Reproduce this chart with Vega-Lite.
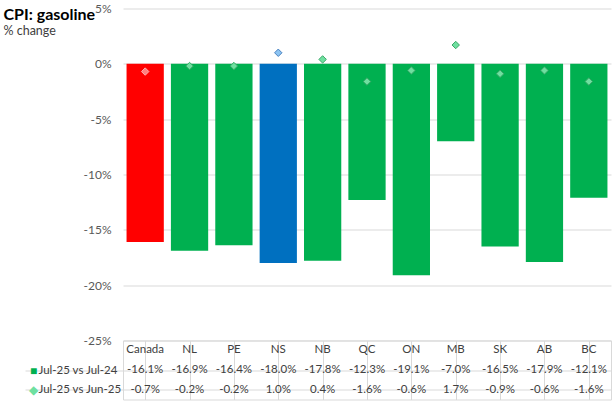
{
  "$schema": "https://vega.github.io/schema/vega-lite/v6.json",
  "padding": {"left": 3, "top": 2.5, "right": 0, "bottom": 0},
  "background": "white",
  "config": {
    "font": "Lato",
    "view": {"stroke": null},
    "locale": {"number": {"decimal": ".", "thousands": ",", "grouping": [3], "currency": ["$", ""], "minus": "-"}}
  },
  "datasets": {
    "cpi": [
      {"prov": "Canada", "yoy": -0.161, "mom": -0.007},
      {"prov": "NL", "yoy": -0.169, "mom": -0.002},
      {"prov": "PE", "yoy": -0.164, "mom": -0.002},
      {"prov": "NS", "yoy": -0.180, "mom": 0.010},
      {"prov": "NB", "yoy": -0.178, "mom": 0.004},
      {"prov": "QC", "yoy": -0.123, "mom": -0.016},
      {"prov": "ON", "yoy": -0.191, "mom": -0.006},
      {"prov": "MB", "yoy": -0.070, "mom": 0.017},
      {"prov": "SK", "yoy": -0.165, "mom": -0.009},
      {"prov": "AB", "yoy": -0.179, "mom": -0.006},
      {"prov": "BC", "yoy": -0.121, "mom": -0.016}
    ]
  },
  "vconcat": [
    {
      "width": 488,
      "height": 332,
      "data": {"name": "cpi"},
      "layer": [
        {
          "mark": {"type": "bar"},
          "encoding": {
            "x": {
              "field": "prov", "type": "nominal", "sort": null,
              "scale": {"domain": ["Canada","NL","PE","NS","NB","QC","ON","MB","SK","AB","BC"], "paddingInner": 0.16, "paddingOuter": 0.08},
              "axis": null
            },
            "y": {
              "field": "yoy", "type": "quantitative",
              "scale": {"domain": [-0.25, 0.05], "nice": false, "zero": false},
              "axis": {
                "values": [-0.25, -0.2, -0.15, -0.1, -0.05, 0, 0.05],
                "format": ".0%",
                "grid": true, "gridColor": "#d9d9d9", "ticks": false, "domain": false,
                "labelColor": "#595959", "labelFontSize": 12, "labelPadding": 12,
                "title": "CPI: gasoline", "titleAngle": 0, "titleAlign": "left", "titleBaseline": "alphabetic",
                "titleX": -120, "titleY": 10.5, "titleFontSize": 16, "titleFontWeight": "bold", "titleColor": "#000000"
              }
            },
            "color": {
              "field": "prov", "type": "nominal", "legend": null,
              "scale": {
                "domain": ["Canada","NL","PE","NS","NB","QC","ON","MB","SK","AB","BC"],
                "range": ["#ff0000","#00b050","#00b050","#0070c0","#00b050","#00b050","#00b050","#00b050","#00b050","#00b050","#00b050"]
              }
            }
          }
        },
        {
          "mark": {"type": "point", "shape": "diamond", "filled": true, "size": 55, "strokeWidth": 1, "opacity": 1},
          "encoding": {
            "x": {"field": "prov", "type": "nominal", "sort": null, "axis": null},
            "y": {
              "field": "mom", "type": "quantitative",
              "axis": {
                "orient": "left", "labels": false, "ticks": false, "domain": false, "grid": false,
                "title": "% change", "titleAngle": 0, "titleAlign": "left", "titleBaseline": "alphabetic",
                "titleX": -120, "titleY": 26, "titleFontSize": 12.5, "titleFontWeight": "normal", "titleColor": "#404040"
              }
            },
            "fill": {
              "field": "prov", "type": "nominal", "legend": null,
              "scale": {
                "domain": ["Canada","NL","PE","NS","NB","QC","ON","MB","SK","AB","BC"],
                "range": ["#ff8080","#6fe0a0","#6fe0a0","#8cc4f2","#6fe0a0","#6fe0a0","#6fe0a0","#6fe0a0","#6fe0a0","#6fe0a0","#6fe0a0"]
              }
            },
            "stroke": {
              "field": "prov", "type": "nominal", "legend": null,
              "scale": {
                "domain": ["Canada","NL","PE","NS","NB","QC","ON","MB","SK","AB","BC"],
                "range": ["#ffb0b0","#3aa868","#3aa868","#4a82c0","#3aa868","#3aa868","#3aa868","#3aa868","#3aa868","#3aa868","#3aa868"]
              }
            }
          }
        }
      ],
      "resolve": {"axis": {"y": "independent"}}
    },
    {
      "width": 488,
      "height": 59,
      "data": {"name": "cpi"},
      "view": {"stroke": "#d9d9d9"},
      "layer": [
        {
          "mark": {"type": "text", "fontSize": 11.5, "color": "#404040", "baseline": "middle"},
          "encoding": {
            "x": {
              "field": "prov", "type": "nominal", "sort": null,
              "scale": {"domain": ["Canada","NL","PE","NS","NB","QC","ON","MB","SK","AB","BC"], "paddingInner": 0, "paddingOuter": 0},
              "axis": {"grid": true, "bandPosition": 0, "gridColor": "#d9d9d9", "labels": false, "ticks": false, "domain": false, "title": null}
            },
            "y": {
              "datum": "hdr", "type": "nominal",
              "scale": {"domain": ["hdr", "yoy", "mom"], "paddingInner": 0, "paddingOuter": 0},
              "axis": {
                "values": ["yoy", "mom"], "bandPosition": 1,
                "ticks": true, "tickSize": 98, "tickColor": "#d9d9d9",
                "grid": true, "gridColor": "#d9d9d9",
                "labels": false, "domain": false, "title": null
              }
            },
            "text": {"field": "prov", "type": "nominal"}
          }
        },
        {
          "mark": {"type": "text", "fontSize": 11.5, "color": "#404040", "baseline": "middle"},
          "encoding": {
            "x": {
              "field": "prov", "type": "nominal", "sort": null,
              "axis": {"grid": true, "bandPosition": 0, "gridColor": "#d9d9d9", "labels": false, "ticks": false, "domain": false, "title": null}
            },
            "y": {
              "datum": "yoy", "type": "nominal",
              "axis": {
                "orient": "left",
                "labelExpr": "datum.value == 'yoy' ? 'Jul-25 vs Jul-24' : (datum.value == 'mom' ? 'Jul-25 vs Jun-25' : '')",
                "labelAlign": "left", "labelPadding": 85, "labelFontSize": 11.5, "labelColor": "#404040",
                "ticks": false, "domain": false, "grid": false, "title": null
              }
            },
            "text": {"field": "yoy", "type": "quantitative", "format": ".1%"}
          }
        },
        {
          "mark": {"type": "text", "fontSize": 11.5, "color": "#404040", "baseline": "middle"},
          "encoding": {
            "x": {
              "field": "prov", "type": "nominal", "sort": null,
              "axis": {"grid": true, "bandPosition": 0, "gridColor": "#d9d9d9", "labels": false, "ticks": false, "domain": false, "title": null}
            },
            "y": {
              "datum": "mom", "type": "nominal",
              "axis": {
                "orient": "left",
                "labelExpr": "datum.value == 'yoy' ? '■' : (datum.value == 'mom' ? '◆' : '')",
                "labelAlign": "center", "labelPadding": 90, "labelFontSize": 12,
                "labelColor": {"condition": {"test": "datum.value == 'yoy'", "value": "#00b050"}, "value": "#6fe0a0"},
                "ticks": false, "domain": false, "grid": false, "title": null
              }
            },
            "text": {"field": "mom", "type": "quantitative", "format": ".1%"}
          }
        }
      ],
      "resolve": {"axis": {"y": "independent"}}
    }
  ],
  "spacing": 0,
  "bounds": "flush",
  "resolve": {"scale": {"x": "independent", "y": "independent"}}
}
